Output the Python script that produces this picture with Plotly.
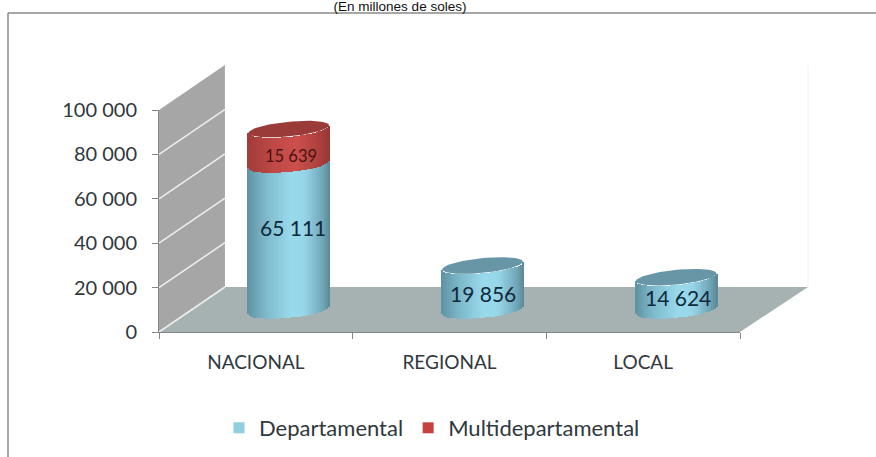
import numpy as np
import plotly.graph_objects as go

categories = ["NACIONAL", "REGIONAL", "LOCAL"]
departamental = [65111, 19856, 14624]
multidepartamental = [15639, None, None]
tick_values = [0, 20000, 40000, 60000, 80000, 100000]
tick_labels = ["0", "20 000", "40 000", "60 000", "80 000", "100 000"]

W, H = 876, 457
FONT = "Lato"
TXT = "#303840"


def px(x):
    return x / W


def py(y):
    return 1 - y / H


def mix(stops, u):
    xs = [s[0] for s in stops]
    rgb = [np.interp(u, xs, [s[1][i] for s in stops]) for i in range(3)]
    return "rgb(%d,%d,%d)" % tuple(int(round(c)) for c in rgb)


BLUE = [(-1, (96, 148, 165)), (-0.55, (126, 186, 204)), (0.05, (152, 218, 236)),
        (0.4, (150, 214, 232)), (0.85, (112, 166, 183)), (1, (92, 140, 155))]
RED = [(-1, (160, 60, 58)), (-0.4, (190, 72, 70)), (0.2, (204, 80, 76)),
       (0.8, (170, 62, 60)), (1, (150, 56, 54))]

HALF = 0.208      # half width of a cylinder, in category units
B = 3300          # ellipse half height, in value units
TILT = 1700       # ellipse tilt, in value units
U = np.linspace(-1, 1, 42)
STEP = U[1] - U[0]


def edge(u):
    return -B * np.sqrt(np.clip(1 - u ** 2, 0, 1)) + TILT * u


def strips(values, bases, stops, name):
    xs, ys, bs, cs = [], [], [], []
    for i, (v, b) in enumerate(zip(values, bases)):
        if v is None:
            continue
        for u in U:
            xs.append(i + u * HALF)
            ys.append(v)
            bs.append(b + edge(u))
            cs.append(mix(stops, u))
    return go.Bar(x=xs, y=ys, base=bs, width=STEP * HALF * 1.25, name=name,
                  marker=dict(color=cs, line=dict(width=0)), xaxis="x2", yaxis="y2",
                  showlegend=False, hoverinfo="skip")


def lid(i, level, color):
    t = np.linspace(0, 2 * np.pi, 90)
    return go.Scatter(x=i + HALF * np.cos(t), y=level + B * np.sin(t) + TILT * np.cos(t),
                      mode="lines", fill="toself", fillcolor=color,
                      line=dict(width=0, color=color), xaxis="x2", yaxis="y2",
                      showlegend=False, hoverinfo="skip")


fig = go.Figure()
# main axes carrying the visible ticks
fig.add_trace(go.Scatter(x=categories, y=[0, 0, 0], mode="markers", marker=dict(opacity=0),
                         showlegend=False, hoverinfo="skip"))
fig.add_trace(strips(departamental, [0, 0, 0], BLUE, "Departamental"))
fig.add_trace(strips(multidepartamental, departamental, RED, "Multidepartamental"))

for i, d in enumerate(departamental):
    m = multidepartamental[i]
    if m is None:
        fig.add_trace(lid(i, d, "#6896a6"))
    else:
        fig.add_trace(lid(i, d + m, "#9a3b3a"))

# legend keys
fig.add_trace(go.Scatter(x=[None], y=[None], mode="markers", name="Departamental",
                         marker=dict(symbol="square", size=11, color="#8fcfe0")))
fig.add_trace(go.Scatter(x=[None], y=[None], mode="markers", name="Multidepartamental",
                         marker=dict(symbol="square", size=11, color="#c44340")))

# plot furniture, in pixels
X0, X1, DX = 159, 740, 66
Y0, Y100, DY = 332, 110, 45


def poly(pts, fill):
    d = "M " + " L ".join(f"{px(a):.4f},{py(b):.4f}" for a, b in pts) + " Z"
    return dict(type="path", path=d, xref="paper", yref="paper", fillcolor=fill,
                line=dict(width=0), layer="below")


def seg(x0, y0, x1, y1, color, width=1.5):
    return dict(type="line", xref="paper", yref="paper", x0=px(x0), y0=py(y0), x1=px(x1), y1=py(y1),
                line=dict(color=color, width=width), layer="below")


shapes = [
    seg(8, 13, 876, 13, "#8a8a8a", 1.5),
    seg(8, 13, 8, 457, "#8a8a8a", 1.5),
    seg(X1 + DX + 2, Y100 - DY, X1 + DX + 2, Y0 - DY, "#f0f2f2", 1),
    poly([(X0, Y0), (X0, Y100), (X0 + DX, Y100 - DY), (X0 + DX, Y0 - DY)], "#a6a6a6"),
    poly([(X0, Y0), (X0 + DX, Y0 - DY), (X1 + DX + 2, Y0 - DY), (X1, Y0)], "#a6b1b1"),
]
scale = (Y0 - Y100) / 100000
for v in tick_values[:-1]:
    yy = Y0 - v * scale
    shapes.append(seg(X0, yy, X0 + DX, yy - DY, "#eceeee", 1.6))

# data labels
label_shift = {0: 10, 1: -6, 2: -4}
label_xshift = {0: 4, 1: 0, 2: 1.5}
annotations = []
for i, d in enumerate(departamental):
    annotations.append(dict(x=i, y=d / 2, xref="x2", yref="y2", text=f"{d // 1000} {d % 1000:03d}",
                            showarrow=False, xshift=label_xshift[i], yshift=label_shift[i],
                            font=dict(family=FONT, size=21, color="#12293a")))
for i, m in enumerate(multidepartamental):
    if m is not None:
        annotations.append(dict(x=i, y=departamental[i] + m / 2, xref="x2", yref="y2",
                                text=f"{m // 1000} {m % 1000:03d}", showarrow=False,
                                xshift=2, yshift=-9,
                                font=dict(family=FONT, size=16.5, color="#4a1212")))

# second axis pair: the cylinder plane, set back on the floor
YB, SCALE2 = 310, 0.00224
R2 = [-20000, 110000]
fig.update_layout(
    width=W, height=H, margin=dict(l=0, r=0, t=0, b=0, autoexpand=False),
    paper_bgcolor="white", plot_bgcolor="rgba(0,0,0,0)",
    barmode="overlay", bargap=0,
    shapes=shapes, annotations=annotations,
    font=dict(family=FONT, color=TXT),
    title=dict(text="(En millones de soles)", x=px(400), y=py(6.5), xanchor="center", yanchor="middle",
               xref="container", yref="container",
               font=dict(family="Liberation Sans", size=13.5, color="#111111")),
    xaxis=dict(domain=[px(X0), px(X1)], type="category", categoryorder="array",
               categoryarray=categories, range=[-0.5, 2.5], tickson="boundaries",
               ticks="outside", ticklen=6, tickcolor="#868686", showgrid=False,
               showline=True, linecolor="#868686", linewidth=1, zeroline=False,
               tickfont=dict(family=FONT, size=19, color=TXT), ticklabelstandoff=13),
    yaxis=dict(domain=[py(Y0), py(Y100)], range=[0, 100000], tickvals=tick_values,
               ticktext=tick_labels, ticks="outside", ticklen=6, tickcolor="#868686",
               showgrid=False, showline=True, linecolor="#868686", zeroline=False,
               tickfont=dict(family=FONT, size=20, color=TXT), ticklabelstandoff=11),
    xaxis2=dict(domain=[px(X0 + 33), px(X1 + 33)], range=[-0.5, 2.5], visible=False,
                anchor="y2", fixedrange=True),
    yaxis2=dict(domain=[py(YB - R2[0] * SCALE2), py(YB - R2[1] * SCALE2)], range=R2, visible=False,
                anchor="x2", fixedrange=True),
    legend=dict(orientation="h", x=px(219), y=py(407), xanchor="left", yanchor="top",
                font=dict(family=FONT, size=22, color=TXT), bgcolor="rgba(0,0,0,0)"),
)

fig.write_html("out.html", config={"displayModeBar": False},
               post_script="document.body.style.margin='0';document.body.style.overflow='hidden';")
